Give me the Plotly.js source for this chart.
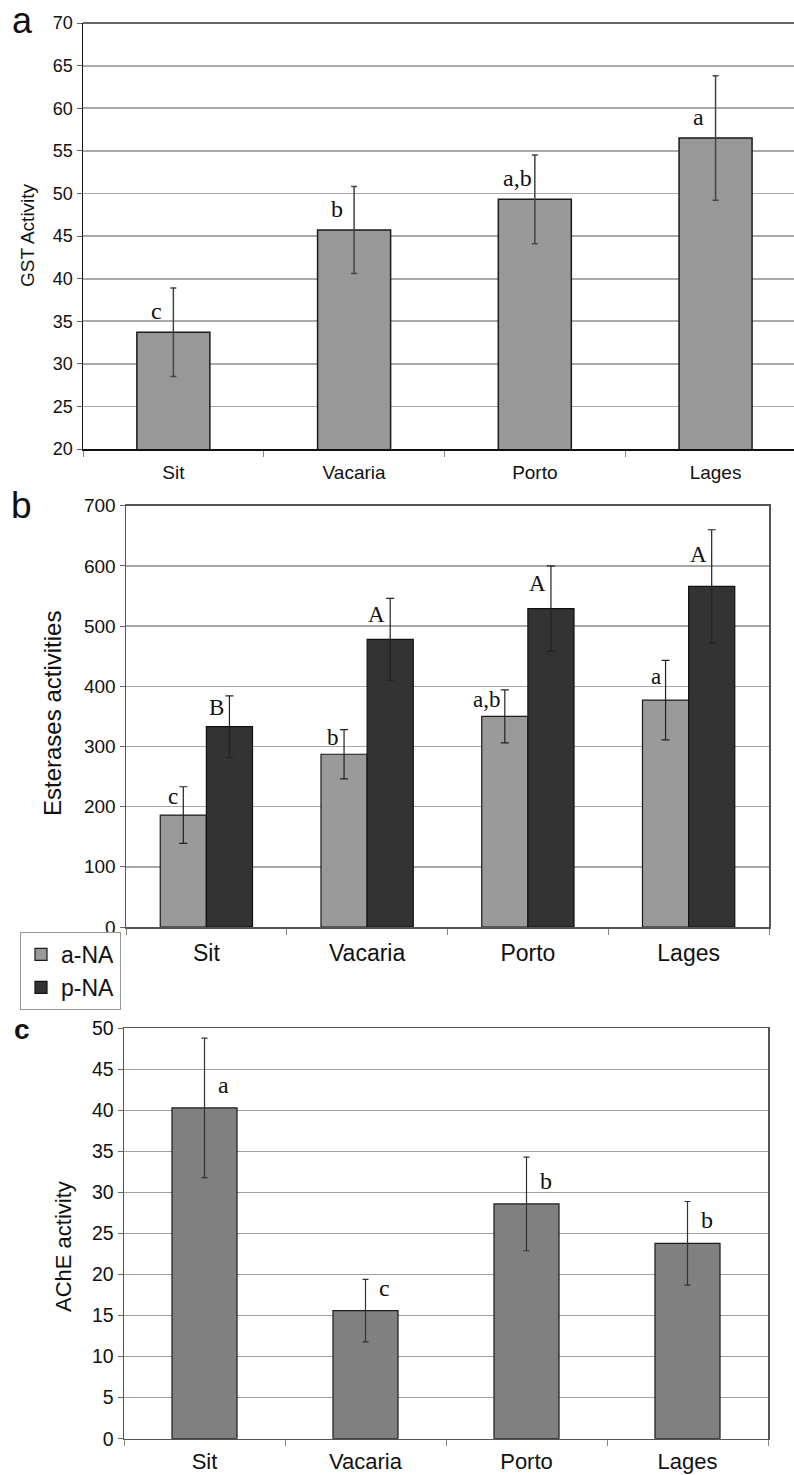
<!DOCTYPE html>
<html>
<head>
<meta charset="utf-8">
<script src="https://cdn.plot.ly/plotly-3.0.1.min.js"></script>
<style>html,body{margin:0;padding:0;background:#fff;}#chart{width:794px;height:1475px;}</style>
</head>
<body>
<div id="chart"></div>
<script>
// ---------- data ----------
const categories = ['Sit', 'Vacaria', 'Porto', 'Lages'];

const gstMean = [33.7, 45.7, 49.3, 56.5];
const gstErr = [5.2, 5.1, 5.2, 7.3];
const gstLetters = ['c', 'b', 'a,b', 'a'];

const aNAMean = [186, 287, 350, 377];
const aNAErr = [47, 41, 44, 66];
const aNALetters = ['c', 'b', 'a,b', 'a'];

const pNAMean = [333, 478, 529, 566];
const pNAErr = [51, 68, 71, 94];
const pNALetters = ['B', 'A', 'A', 'A'];

const acheMean = [40.3, 15.6, 28.6, 23.8];
const acheErr = [8.5, 3.8, 5.7, 5.1];
const acheLetters = ['a', 'c', 'b', 'b'];

const panelLabels = ['a', 'b', 'c'];
const yTitles = ['GST Activity', 'Esterases activities', 'AChE activity'];
const legendNames = ['a-NA', 'p-NA'];

// ---------- style ----------
const W = 794, H = 1475;
const SANS = 'Liberation Sans, Arial, sans-serif';
const SERIF = 'Liberation Serif, Times New Roman, serif';
const singleW = 0.404;
const groupW = 0.287;

function px2x(p) { return p / W; }
function py2y(p) { return 1 - p / H; }

const traces = [
  {
    type: 'bar', x: categories, y: gstMean, xaxis: 'x', yaxis: 'y',
    width: singleW, offset: -singleW / 2, showlegend: false,
    marker: {color: '#989898', line: {color: '#1a1a1a', width: 1.5}},
    error_y: {type: 'data', array: gstErr, visible: true, color: '#444', thickness: 1.5, width: 3}
  },
  {
    type: 'bar', name: legendNames[0], x: categories, y: aNAMean, xaxis: 'x2', yaxis: 'y2',
    width: groupW, offset: -groupW,
    marker: {color: '#9a9a9a', line: {color: '#1a1a1a', width: 1.2}},
    error_y: {type: 'data', array: aNAErr, visible: true, color: '#222', thickness: 1.2, width: 4}
  },
  {
    type: 'bar', name: legendNames[1], x: categories, y: pNAMean, xaxis: 'x2', yaxis: 'y2',
    width: groupW, offset: 0,
    marker: {color: '#333333', line: {color: '#111', width: 1.2}},
    error_y: {type: 'data', array: pNAErr, visible: true, color: '#222', thickness: 1.2, width: 4}
  },
  {
    type: 'bar', x: categories, y: acheMean, xaxis: 'x3', yaxis: 'y3',
    width: singleW, offset: -singleW / 2, showlegend: false,
    marker: {color: '#808080', line: {color: '#1a1a1a', width: 1.2}},
    error_y: {type: 'data', array: acheErr, visible: true, color: '#333', thickness: 1.2, width: 3}
  }
];

const annotations = [];
// letters panel a
categories.forEach((c, i) => {
  annotations.push({xref: 'x', yref: 'y', x: i, y: gstMean[i], text: gstLetters[i],
    showarrow: false, xanchor: 'center', yanchor: 'middle', xshift: -17, yshift: 21,
    font: {family: SERIF, size: 24, color: '#111'}});
});
// letters panel b
categories.forEach((c, i) => {
  annotations.push({xref: 'x2', yref: 'y2', x: i - groupW / 2, y: aNAMean[i] + aNAErr[i] / 2, text: aNALetters[i],
    showarrow: false, xanchor: 'right', yanchor: 'middle', xshift: -3, yshift: 4,
    font: {family: SERIF, size: 23, color: '#111'}});
  annotations.push({xref: 'x2', yref: 'y2', x: i + groupW / 2, y: pNAMean[i] + pNAErr[i] / 2, text: pNALetters[i],
    showarrow: false, xanchor: 'right', yanchor: 'middle', xshift: -3, yshift: 4,
    font: {family: SERIF, size: 23, color: '#111'}});
});
// letters panel c
categories.forEach((c, i) => {
  annotations.push({xref: 'x3', yref: 'y3', x: i, y: acheMean[i], text: acheLetters[i],
    showarrow: false, xanchor: 'left', yanchor: 'middle', xshift: 11, yshift: 23,
    font: {family: SERIF, size: 24, color: '#111'}});
});
// panel labels
const plPos = [[22, 21, 36, false], [21, 506, 37, false], [22, 1029, 28, true]];
panelLabels.forEach((t, k) => {
  annotations.push({xref: 'paper', yref: 'paper', x: px2x(plPos[k][0]), y: py2y(plPos[k][1]),
    text: plPos[k][3] ? '<b>' + t + '</b>' : t, showarrow: false, xanchor: 'center', yanchor: 'middle',
    font: {family: SANS, size: plPos[k][2], color: '#111'}});
});
// y titles
const ytPos = [[28, 235, 19], [53, 713, 24], [63, 1247, 22]];
yTitles.forEach((t, k) => {
  annotations.push({xref: 'paper', yref: 'paper', x: px2x(ytPos[k][0]), y: py2y(ytPos[k][1]),
    text: t, showarrow: false, textangle: -90, xanchor: 'center', yanchor: 'middle',
    font: {family: SANS, size: ytPos[k][2], color: '#111'}});
});

function xax(domain, range, fs, lineColor, mirror, standoff) {
  return {
    domain: domain, type: 'category', range: range,
    showline: true, linecolor: lineColor, linewidth: 1.5, mirror: mirror,
    ticks: 'outside', tickson: 'boundaries', ticklen: 6, tickcolor: '#888', tickwidth: 1,
    showgrid: false, zeroline: false, ticklabelstandoff: standoff,
    tickfont: {family: SANS, size: fs, color: '#111'}, fixedrange: true
  };
}
function yax(domain, range, dtick, fs, lineColor, mirror, gridColor, gridW) {
  return {
    domain: domain, range: range, dtick: dtick, tick0: 0,
    showline: true, linecolor: lineColor, linewidth: 1.5, mirror: mirror,
    ticks: 'outside', ticklen: 5, tickcolor: '#666', tickwidth: 1,
    showgrid: true, gridcolor: gridColor, gridwidth: gridW, zeroline: false,
    tickfont: {family: SANS, size: fs, color: '#111'}, fixedrange: true
  };
}

const xa = xax([px2x(83), 1], [-0.5, 3.434], 19, '#111', false, 6); xa.anchor = 'y';
const xb = xax([px2x(126), px2x(769)], [-0.5, 3.5], 23, '#555', true, 5); xb.anchor = 'y2';
const xc = xax([px2x(124), px2x(768)], [-0.5, 3.5], 22, '#555', true, 2); xc.anchor = 'y3';
const ya = yax([py2y(449), py2y(23)], [20, 70], 5, 18, '#111', false, '#aaaaaa', 1.8); ya.anchor = 'x';
const yb = yax([py2y(927), py2y(505.7)], [0, 700], 100, 19, '#555', true, '#a8a8a8', 1.4); yb.anchor = 'x2';
const yc = yax([py2y(1438.7), py2y(1028.3)], [0, 50], 5, 19.5, '#555', true, '#a0a0a0', 1.4); yc.anchor = 'x3';

const layout = {
  width: W, height: H,
  margin: {l: 0, r: 0, t: 0, b: 0, pad: 0},
  paper_bgcolor: '#fff', plot_bgcolor: '#fff',
  barmode: 'group',
  xaxis: xa, yaxis: ya,
  xaxis2: xb, yaxis2: yb,
  xaxis3: xc, yaxis3: yc,
  showlegend: true,
  legend: {
    x: px2x(20), y: py2y(932), xanchor: 'left', yanchor: 'top',
    orientation: 'v', bordercolor: '#999', borderwidth: 1, bgcolor: '#fff',
    font: {family: SANS, size: 23, color: '#111'}, itemwidth: 30, tracegroupgap: 0
  },
  annotations: annotations,
  shapes: [
    {type: 'line', xref: 'x domain', yref: 'y domain', x0: 0, x1: 1, y0: 1, y1: 1,
     line: {color: '#333', width: 1.5}}
  ]
};

Plotly.newPlot('chart', traces, layout, {staticPlot: true, displayModeBar: false});
</script>
</body>
</html>
